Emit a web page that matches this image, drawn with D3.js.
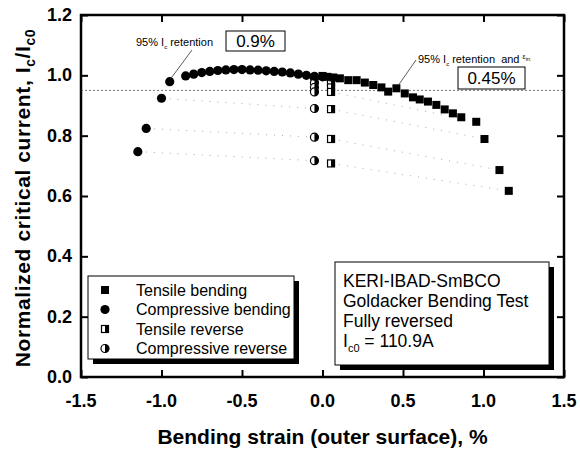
<html>
<head>
<meta charset="utf-8">
<style>
body { margin: 0; background: #fff; }
text { font-family: Arial, "Liberation Sans", Helvetica, sans-serif; }
</style>
</head>
<body>
<div id="chart"></div>
<script src="https://d3js.org/d3.v7.min.js"></script>
<script>
// tensile bending (squares)
var tensileX = [0.0, 0.03, 0.067, 0.108, 0.16, 0.212, 0.263, 0.315, 0.366, 0.408, 0.459, 0.511, 0.562, 0.604, 0.655, 0.707, 0.759, 0.81, 0.862, 0.955, 1.006, 1.099, 1.157];
var tensileY = [0.998, 0.995, 0.993, 0.99, 0.984, 0.984, 0.976, 0.968, 0.96, 0.946, 0.957, 0.94, 0.927, 0.92, 0.913, 0.902, 0.887, 0.874, 0.861, 0.846, 0.789, 0.686, 0.617];

// compressive bending (circles)
var compX = [-1.147, -1.095, -1.0, -0.949, -0.85, -0.8, -0.75, -0.7, -0.65, -0.6, -0.55, -0.5, -0.45, -0.4, -0.35, -0.3, -0.25, -0.2, -0.15, -0.1, -0.05, 0.0];
var compY = [0.747, 0.824, 0.924, 0.979, 0.998, 1.004, 1.009, 1.013, 1.016, 1.018, 1.019, 1.019, 1.018, 1.017, 1.015, 1.013, 1.011, 1.008, 1.004, 1.0, 0.997, 0.995];

// reverse measurements
var tensRevX = [0.053, 0.053, 0.053, 0.053, 0.053, 0.053, 0.053];
var tensRevY = [0.99, 0.975, 0.96, 0.945, 0.888, 0.789, 0.708];
var compRevX = [-0.05, -0.05, -0.05, -0.05, -0.05, -0.05, -0.05];
var compRevY = [0.99, 0.975, 0.96, 0.945, 0.89, 0.795, 0.717];

// faint guide lines linking bending and reverse points [x1, y1, x2, y2]
var guides = [
  [-1.0, 0.924, -0.05, 0.89],
  [-1.095, 0.824, -0.05, 0.795],
  [-1.147, 0.747, -0.05, 0.717],
  [0.053, 0.945, 0.955, 0.846],
  [0.053, 0.888, 1.006, 0.789],
  [0.053, 0.789, 1.099, 0.686],
  [0.053, 0.708, 1.157, 0.617]
];

var retention = 0.95;
var xTicks = [-1.5, -1.0, -0.5, 0.0, 0.5, 1.0, 1.5];
var yTicks = [0.0, 0.2, 0.4, 0.6, 0.8, 1.0, 1.2];
var legendLabels = ["Tensile bending", "Compressive bending", "Tensile reverse", "Compressive reverse"];
var infoLines = ["KERI-IBAD-SmBCO", "Goldacker Bending Test", "Fully reversed"];

var W = 580, H = 450;
var L = 81, R = 564, T = 15, B = 377;

var svg = d3.select("#chart").append("svg")
    .attr("width", W).attr("height", H);

var x = d3.scaleLinear().domain([-1.5, 1.5]).range([L, R]);
var y = d3.scaleLinear().domain([0, 1.2]).range([B, T]);

var fmt = d => d3.format(".1f")(d).replace("\u2212", "-");

// 95% reference line
svg.append("line")
    .attr("x1", L).attr("x2", R)
    .attr("y1", y(retention)).attr("y2", y(retention))
    .attr("stroke", "#555").attr("stroke-width", 0.8)
    .attr("stroke-dasharray", "2,2");

// faint guide lines
svg.append("g").selectAll("line").data(guides).enter().append("line")
    .attr("x1", d => x(d[0])).attr("y1", d => y(d[1]))
    .attr("x2", d => x(d[2])).attr("y2", d => y(d[3]))
    .attr("stroke", "#aaa").attr("stroke-width", 1)
    .attr("stroke-dasharray", "1,7");

// axes with inward ticks on all four sides
function tickAxis(axis, scale, major, minor, tr) {
    var g = svg.append("g").attr("transform", tr);
    g.call(axis(scale).tickValues(minor).tickSize(4).tickFormat(""));
    g.call(axis(scale).tickValues(major).tickSize(7).tickFormat(""));
    g.selectAll(".domain").remove();
    g.selectAll("line").attr("stroke", "#000").attr("stroke-width", 2);
    return g;
}
var xMinor = d3.range(-1.25, 1.5, 0.5);
var yMinor = d3.range(0.1, 1.2, 0.2);
tickAxis(d3.axisTop, x, xTicks, xMinor, "translate(0," + B + ")");
tickAxis(d3.axisBottom, x, xTicks, xMinor, "translate(0," + T + ")");
tickAxis(d3.axisRight, y, yTicks, yMinor, "translate(" + L + ",0)");
tickAxis(d3.axisLeft, y, yTicks, yMinor, "translate(" + R + ",0)");

svg.append("rect")
    .attr("x", L).attr("y", T).attr("width", R - L).attr("height", B - T)
    .attr("fill", "none").attr("stroke", "#000").attr("stroke-width", 2.5);

// tick labels
svg.append("g").selectAll("text").data(xTicks).enter().append("text")
    .attr("x", d => x(d)).attr("y", B + 30)
    .attr("text-anchor", "middle")
    .attr("font-size", 18).attr("font-weight", "bold")
    .text(d => fmt(d));
svg.append("g").selectAll("text").data(yTicks).enter().append("text")
    .attr("x", L - 9).attr("y", d => y(d) + 6)
    .attr("text-anchor", "end")
    .attr("font-size", 18).attr("font-weight", "bold")
    .text(d => fmt(d));

// axis titles
svg.append("text")
    .attr("x", (L + R) / 2).attr("y", 444)
    .attr("text-anchor", "middle")
    .attr("font-size", 21).attr("font-weight", "bold")
    .text("Bending strain (outer surface), %");

var yt = svg.append("text")
    .attr("transform", "translate(30," + ((T + B) / 2 + 2) + ") rotate(-90)")
    .attr("text-anchor", "middle")
    .attr("font-size", 21).attr("font-weight", "bold")
    .attr("letter-spacing", 0.6);
yt.append("tspan").text("Normalized critical current, I");
yt.append("tspan").attr("font-size", 14).attr("dy", 5).text("c");
yt.append("tspan").attr("dy", -5).text("/I");
yt.append("tspan").attr("font-size", 14).attr("dy", 5).text("c0");

// marker helpers
function square(g, cx, cy) {
    g.append("rect").attr("x", cx - 4).attr("y", cy - 4)
        .attr("width", 8).attr("height", 8).attr("fill", "#000");
}
function circle(g, cx, cy) {
    g.append("circle").attr("cx", cx).attr("cy", cy).attr("r", 4.6).attr("fill", "#000");
}
function halfSquare(g, cx, cy) {
    g.append("rect").attr("x", cx - 3.5).attr("y", cy - 3.5)
        .attr("width", 7).attr("height", 7)
        .attr("fill", "#fff").attr("stroke", "#000").attr("stroke-width", 1.2);
    g.append("rect").attr("x", cx).attr("y", cy - 3.5)
        .attr("width", 3.5).attr("height", 7).attr("fill", "#000");
}
function halfCircle(g, cx, cy) {
    var r = 4;
    g.append("circle").attr("cx", cx).attr("cy", cy).attr("r", r)
        .attr("fill", "#fff").attr("stroke", "#000").attr("stroke-width", 1.2);
    g.append("path")
        .attr("d", "M" + cx + "," + (cy - r) + " A" + r + "," + r + " 0 0,1 " + cx + "," + (cy + r) + " Z")
        .attr("fill", "#000");
}

var marks = svg.append("g");
compRevX.forEach((v, i) => halfCircle(marks, x(v), y(compRevY[i])));
tensRevX.forEach((v, i) => halfSquare(marks, x(v), y(tensRevY[i])));
compX.forEach((v, i) => circle(marks, x(v), y(compY[i])));
tensileX.forEach((v, i) => square(marks, x(v), y(tensileY[i])));

// annotations
function retentionLabel(tx, ty) {
    var t = svg.append("text").attr("x", tx).attr("y", ty).attr("font-size", 11);
    t.append("tspan").text("95% I");
    t.append("tspan").attr("font-size", 6).attr("dy", 3).text("c");
    t.append("tspan").attr("dy", -3).text(" retention");
    return t;
}
retentionLabel(136, 46);
svg.append("line")
    .attr("x1", 192).attr("y1", 50).attr("x2", x(compX[3]) + 1).attr("y2", y(compY[3]) - 3)
    .attr("stroke", "#333").attr("stroke-width", 0.8);

var t2 = retentionLabel(418, 63);
t2.append("tspan").attr("xml:space", "preserve").text("  and ");
t2.append("tspan").attr("font-size", 7).attr("dy", -4).text("ε");
t2.append("tspan").attr("font-size", 5).attr("dy", 2).text("irr.");
svg.append("line")
    .attr("x1", 416).attr("y1", 60).attr("x2", x(tensileX[10]) + 2).attr("y2", y(tensileY[10]) - 3)
    .attr("stroke", "#333").attr("stroke-width", 0.8);

function valueBox(bx, by, bw, bh, label) {
    svg.append("rect").attr("x", bx).attr("y", by).attr("width", bw).attr("height", bh)
        .attr("fill", "#fff").attr("stroke", "#000").attr("stroke-width", 1);
    svg.append("text").attr("x", bx + bw / 2).attr("y", by + bh / 2 + 6)
        .attr("text-anchor", "middle").attr("font-size", 17).text(label);
}
valueBox(226, 31, 59, 20, "0.9%");
valueBox(458, 67, 67, 22, "0.45%");

// legend box with shadow
var lg = svg.append("g");
lg.append("rect").attr("x", 93).attr("y", 281).attr("width", 206).attr("height", 83).attr("fill", "#000");
lg.append("rect").attr("x", 88).attr("y", 276).attr("width", 206).attr("height", 83)
    .attr("fill", "#fff").attr("stroke", "#000").attr("stroke-width", 1);
var legendMarkers = [square, circle, halfSquare, halfCircle];
legendLabels.forEach(function (lab, i) {
    var ly = 290 + i * 19.5;
    legendMarkers[i](lg, 105, ly);
    lg.append("text").attr("x", 136).attr("y", ly + 5.5)
        .attr("font-size", 16).text(lab);
});

// info box with shadow
var ib = svg.append("g");
ib.append("rect").attr("x", 340).attr("y", 267).attr("width", 214).attr("height", 103).attr("fill", "#000");
ib.append("rect").attr("x", 335).attr("y", 262).attr("width", 214).attr("height", 103)
    .attr("fill", "#fff").attr("stroke", "#000").attr("stroke-width", 1);
infoLines.forEach(function (s, i) {
    ib.append("text").attr("x", 343).attr("y", 287 + i * 20)
        .attr("font-size", 17.5).text(s);
});
var ic = ib.append("text").attr("x", 343).attr("y", 347).attr("font-size", 17.5);
ic.append("tspan").text("I");
ic.append("tspan").attr("font-size", 11).attr("dy", 5).text("c0");
ic.append("tspan").attr("dy", -5).text(" = 110.9A");
</script>
</body>
</html>
